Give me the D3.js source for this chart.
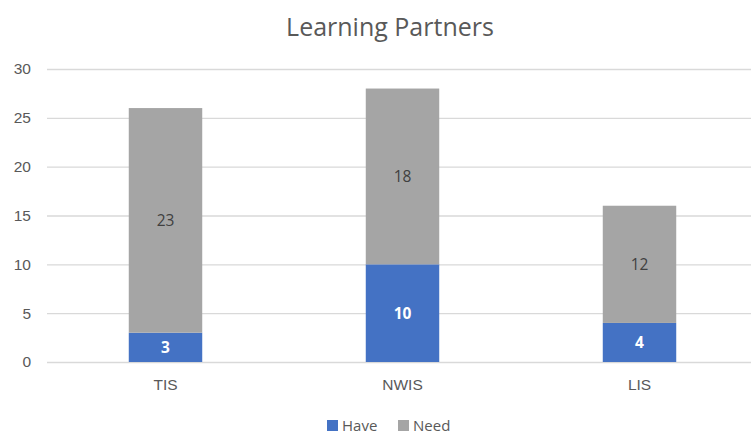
<!DOCTYPE html>
<html><head><meta charset="utf-8">
<script src="https://cdn.jsdelivr.net/npm/d3@7"></script>
<style>body{margin:0;background:#fff}svg{display:block;font-family:"Open Sans",sans-serif}</style>
</head><body><svg id="c" width="751" height="436"></svg>
<script>
const categories = ["TIS", "NWIS", "LIS"];
const have = [3, 10, 4];
const need = [23, 18, 12];
const seriesNames = ["Have", "Need"];
const colors = ["#4472C4", "#A5A5A5"];
const yTicks = [0, 5, 10, 15, 20, 25, 30];

const svg = d3.select("#c");
const x = d3.scaleBand().domain(categories).range([47, 758]).paddingInner(0.69).paddingOuter(0.345);
const y = d3.scaleLinear().domain([0, 30]).range([362, 69]);

svg.append("text").attr("x", 390).attr("y", 36).attr("text-anchor", "middle")
  .attr("font-size", 25).attr("fill", "#595959").text("Learning Partners");

const yAxis = d3.axisLeft(y).tickValues(yTicks).tickSize(-(751 - 47)).tickPadding(14);
const ga = svg.append("g").attr("transform", "translate(47,0)").call(yAxis);
ga.select(".domain").remove();
ga.selectAll(".tick line").attr("stroke", "#D9D9D9").attr("stroke-width", 1.3);
ga.selectAll(".tick text").attr("fill", "#595959").attr("font-size", 15.5).attr("x", -16);

const rows = categories.map((c, i) => ({cat: c, Have: have[i], Need: need[i]}));
const stacked = d3.stack().keys(seriesNames)(rows);

stacked.forEach((s, si) => {
  const g = svg.append("g");
  g.selectAll("rect").data(s).join("rect")
    .attr("x", d => x(d.data.cat)).attr("width", x.bandwidth())
    .attr("y", d => y(d[1])).attr("height", d => y(d[0]) - y(d[1]))
    .attr("fill", colors[si]);
  g.selectAll("text").data(s).join("text")
    .attr("x", d => x(d.data.cat) + x.bandwidth() / 2)
    .attr("y", d => (y(d[0]) + y(d[1])) / 2 + 5.5)
    .attr("text-anchor", "middle").attr("font-size", 15.5)
    .attr("font-weight", si === 0 ? "bold" : "normal")
    .attr("fill", si === 0 ? "#FFFFFF" : "#404040")
    .text(d => d[1] - d[0]);
});

const xAxis = d3.axisBottom(x).tickSize(0).tickPadding(0);
const gx = svg.append("g").attr("transform", "translate(0,362)").call(xAxis);
gx.select(".domain").remove();
gx.selectAll(".tick text").attr("fill", "#595959").attr("font-size", 15.5).attr("y", 17);

const leg = svg.append("g");
const legX = [327, 398];
seriesNames.forEach((n, i) => {
  leg.append("rect").attr("x", legX[i]).attr("y", 420).attr("width", 11).attr("height", 11).attr("fill", colors[i]);
  leg.append("text").attr("x", legX[i] + 15).attr("y", 431).attr("font-size", 15).attr("fill", "#595959").text(n);
});
</script></body></html>
